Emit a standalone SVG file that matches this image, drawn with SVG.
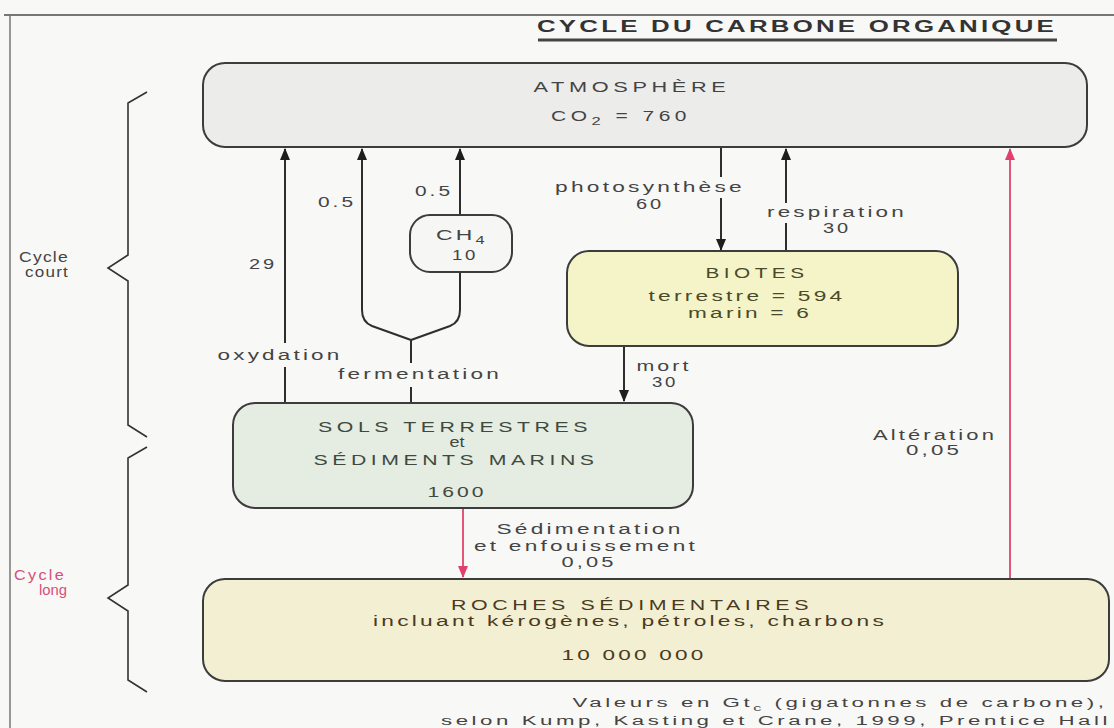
<svg xmlns="http://www.w3.org/2000/svg" width="1114" height="728" viewBox="0 0 1114 728">
<defs>
<style>
text{font-family:"Liberation Sans",Arial,sans-serif;fill:#444;font-size:14px;text-anchor:middle;letter-spacing:2px}
.cap{font-size:14px;letter-spacing:3px}
.ln{fill:none;stroke:#2e2e2e;stroke-width:2}
.red{fill:none;stroke:#e2557c;stroke-width:2}
.box{stroke:#3c3c3c;stroke-width:2}
.brace{fill:none;stroke:#333;stroke-width:1.6}
.pink{fill:#d4507a}
</style>
<marker id="ah" viewBox="0 0 12 10" refX="11" refY="5" markerWidth="12" markerHeight="10" orient="auto" markerUnits="userSpaceOnUse">
<path d="M0,0 L12,5 L0,10 z" fill="#1e1e1e"/>
</marker>
<marker id="ar" viewBox="0 0 12 10" refX="11" refY="5" markerWidth="12" markerHeight="10" orient="auto" markerUnits="userSpaceOnUse">
<path d="M0,0 L12,5 L0,10 z" fill="#e0406a"/>
</marker>
</defs>
<rect width="1114" height="728" fill="#f8f8f7"/>
<line x1="4" y1="15" x2="1114" y2="15" stroke="#777" stroke-width="2"/>
<line x1="10" y1="15" x2="10" y2="728" stroke="#777" stroke-width="1.5"/>
<g id="title">
<text x="797" y="32" textLength="520" lengthAdjust="spacingAndGlyphs" style="font-size:16px;font-weight:bold;fill:#333;letter-spacing:2px">CYCLE DU CARBONE ORGANIQUE</text>
<line x1="538" y1="40" x2="1057" y2="40" stroke="#444" stroke-width="3"/>
</g>
<g id="braces">
<path class="brace" d="M147,92 L128,103 L128,255 L108,268 L128,281 L128,425 L147,437"/>
<path class="brace" d="M147,447 L128,458 L128,585 L108,598 L128,611 L128,680 L147,692"/>
<text x="44" y="262" textLength="50" lengthAdjust="spacingAndGlyphs" style="letter-spacing:1px">Cycle</text>
<text x="47" y="277" textLength="44" lengthAdjust="spacingAndGlyphs" style="letter-spacing:1px">court</text>
<text x="40" y="580" textLength="52" lengthAdjust="spacingAndGlyphs" class="pink" style="letter-spacing:2px">Cycle</text>
<text x="53" y="595" textLength="28" lengthAdjust="spacingAndGlyphs" class="pink" style="letter-spacing:0">long</text>
</g>
<g id="connectors">
<path class="ln" d="M285,403 L285,367 M285,343 L285,149" marker-end="url(#ah)"/>
<path class="ln" d="M411,403 L411,387 M411,363 L411,340 L372,326 Q362,322 362,310 L362,149" marker-end="url(#ah)"/>
<path class="ln" d="M411,340 L450,326 Q460,322 460,310 L460,272"/>
<path class="ln" d="M460,215 L460,149" marker-end="url(#ah)"/>
<path class="ln" d="M721,147 L721,177 M721,198 L721,250" marker-end="url(#ah)"/>
<path class="ln" d="M786,252 L786,223 M786,203 L786,149" marker-end="url(#ah)"/>
<path class="ln" d="M624,345 L624,401" marker-end="url(#ah)"/>
<path class="red" d="M463,508 L463,577" marker-end="url(#ar)"/>
<path class="red" d="M1010,579 L1010,149" marker-end="url(#ar)"/>
<text x="263" y="269" textLength="28" lengthAdjust="spacingAndGlyphs">29</text>
<text x="280" y="360" textLength="125" lengthAdjust="spacingAndGlyphs">oxydation</text>
<text x="337" y="207" textLength="38" lengthAdjust="spacingAndGlyphs">0.5</text>
<text x="434" y="196" textLength="38" lengthAdjust="spacingAndGlyphs">0.5</text>
<text x="420" y="379" textLength="164" lengthAdjust="spacingAndGlyphs">fermentation</text>
<text x="650" y="192" textLength="190" lengthAdjust="spacingAndGlyphs">photosynthèse</text>
<text x="650" y="209" textLength="28" lengthAdjust="spacingAndGlyphs">60</text>
<text x="837" y="217" textLength="140" lengthAdjust="spacingAndGlyphs">respiration</text>
<text x="837" y="233" textLength="28" lengthAdjust="spacingAndGlyphs">30</text>
<text x="664" y="371" textLength="55" lengthAdjust="spacingAndGlyphs">mort</text>
<text x="665" y="387" textLength="26" lengthAdjust="spacingAndGlyphs">30</text>
<text x="590" y="534" textLength="187" lengthAdjust="spacingAndGlyphs">Sédimentation</text>
<text x="586" y="551" textLength="224" lengthAdjust="spacingAndGlyphs">et enfouissement</text>
<text x="589" y="567" textLength="55" lengthAdjust="spacingAndGlyphs">0,05</text>
<text x="935" y="440" textLength="124" lengthAdjust="spacingAndGlyphs">Altération</text>
<text x="934" y="455" textLength="56" lengthAdjust="spacingAndGlyphs">0,05</text>
</g>
<g id="atmosphere">
<rect class="box" x="203" y="63" width="884" height="84" rx="22" fill="#ececeb"/>
<text x="632" y="92" class="cap" textLength="197" lengthAdjust="spacingAndGlyphs">ATMOSPHÈRE</text>
<text x="621" y="121" class="cap" textLength="140" lengthAdjust="spacingAndGlyphs">CO<tspan dy="4" style="font-size:11px">2</tspan><tspan dy="-4"> = 760</tspan></text>
</g>
<g id="ch4">
<rect class="box" x="410" y="215" width="102" height="57" rx="20" fill="#f6f6f4"/>
<text x="462" y="240" textLength="52" lengthAdjust="spacingAndGlyphs">CH<tspan dy="4" style="font-size:10px">4</tspan></text>
<text x="465" y="260" textLength="26" lengthAdjust="spacingAndGlyphs">10</text>
</g>
<g id="biotes">
<rect class="box" x="567" y="251" width="391" height="95" rx="22" fill="#f4f4c8"/>
<text x="757" y="278" class="cap" textLength="103" lengthAdjust="spacingAndGlyphs" style="fill:#4a4a2a">BIOTES</text>
<text x="747" y="301" textLength="197" lengthAdjust="spacingAndGlyphs" style="fill:#4a4a2a">terrestre = 594</text>
<text x="750" y="318" textLength="124" lengthAdjust="spacingAndGlyphs" style="fill:#4a4a2a">marin = 6</text>
</g>
<g id="sols">
<rect class="box" x="233" y="403" width="460" height="105" rx="22" fill="#e5ece2"/>
<text x="455" y="432" class="cap" textLength="274" lengthAdjust="spacingAndGlyphs" style="fill:#3e4a3e">SOLS TERRESTRES</text>
<text x="457" y="447" textLength="15" lengthAdjust="spacingAndGlyphs" style="fill:#3e4a3e;letter-spacing:0">et</text>
<text x="456" y="465" class="cap" textLength="285" lengthAdjust="spacingAndGlyphs" style="fill:#3e4a3e">SÉDIMENTS MARINS</text>
<text x="457" y="497" textLength="59" lengthAdjust="spacingAndGlyphs" style="fill:#3e4a3e">1600</text>
</g>
<g id="roches">
<rect class="box" x="203" y="579" width="906" height="102" rx="22" fill="#f3efd2"/>
<text x="632" y="610" class="cap" textLength="362" lengthAdjust="spacingAndGlyphs" style="fill:#4a3a22">ROCHES SÉDIMENTAIRES</text>
<text x="630" y="626" textLength="514" lengthAdjust="spacingAndGlyphs" style="fill:#4a3a22">incluant kérogènes, pétroles, charbons</text>
<text x="634" y="660" textLength="145" lengthAdjust="spacingAndGlyphs" style="fill:#4a3a22">10 000 000</text>
</g>
<g id="footnote">
<text x="840" y="707" textLength="535" lengthAdjust="spacingAndGlyphs" style="font-size:12.5px">Valeurs en Gt<tspan dy="4" style="font-size:9px">c</tspan><tspan dy="-4"> (gigatonnes de carbone),</tspan></text>
<text x="776" y="725" textLength="670" lengthAdjust="spacingAndGlyphs" style="font-size:12.5px">selon Kump, Kasting et Crane, 1999, Prentice Hall</text>
</g>
</svg>
